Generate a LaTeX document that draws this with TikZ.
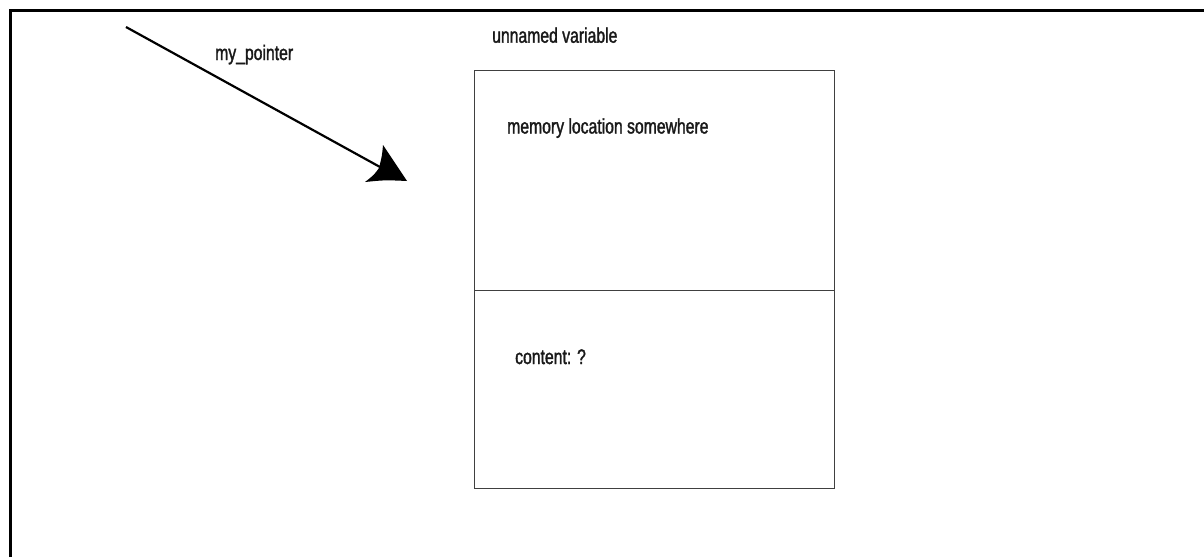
\documentclass[tikz,border=0pt]{standalone}
\usepackage{fontspec}
\setmainfont{Liberation Sans}[FakeStretch=0.75,FakeBold=1.6]
\begin{document}
\begin{tikzpicture}[x=1pt,y=-1pt,
  lbl/.style={anchor=base west, inner sep=0pt, font=\fontsize{21}{24}\selectfont, text=black!90},
  cell/.style={draw=black!75, line width=1.4pt, anchor=north west, minimum width=360pt, inner sep=0pt},
  frameline/.style={line width=3pt, black},
  ptr/.style={line width=2.2pt, black}]
\useasboundingbox (0,0) rectangle (1204,557);
% frame
\draw[frameline] (10,557) -- (10,10.8) -- (1204,10.8);
% memory cells
\node[cell, minimum height=220pt] (top) at (474,70) {};
\node[cell, minimum height=198pt] (bottom) at (474,290) {};
% labels
\node[lbl] (uv) at (492,42.7) {unnamed variable};
\node[lbl] (mem) at (507,133.5) {memory location somewhere};
\node[lbl] (cont) at (515,364) {content: ?};
\node[lbl] (name) at (215,60) {my\_pointer};
% pointer arrow
\coordinate (ps) at (126,27);
\coordinate (notch) at (380,167);
\coordinate (tip) at (407,181);
\draw[ptr] (ps) -- (notch);
\fill[black] (tip) -- (383,145) .. controls (382,156) .. (379,168) .. controls (374,175) .. (365,182) .. controls (385,180) .. (tip) -- cycle;
\end{tikzpicture}
\end{document}
